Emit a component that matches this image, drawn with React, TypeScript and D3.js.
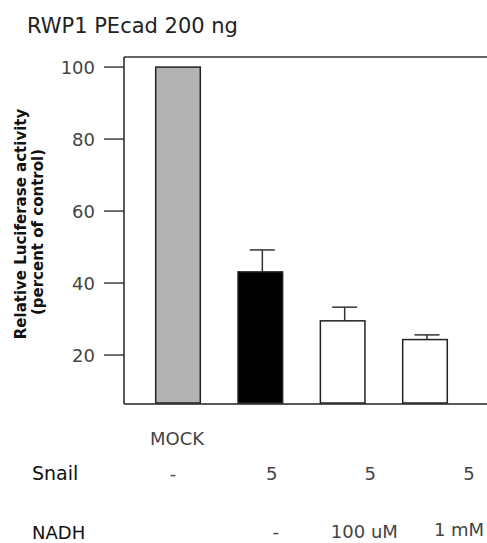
import React from "react";
import * as d3 from "d3";

const categories = ["MOCK", "Snail", "Snail+NADH 100uM", "Snail+NADH 1mM"];
const values = [100, 43.1, 29.5, 24.3];
const errors = [0, 6.1, 3.8, 1.3];
const fills = ["#b3b3b3", "#000000", "#ffffff", "#ffffff"];
const yTicks = [20, 40, 60, 80, 100];
const snailLabels = ["-", "5", "5", "5"];
const nadhLabels = ["", "-", "100 uM", "1 mM"];
const xLabels = ["MOCK", "", "", ""];

const W = 487;
const H = 543;

export default function App() {
  const y = d3.scaleLinear().domain([6.4, 102.8]).range([404, 57]);
  const x = d3.scalePoint<string>().domain(categories).range([178, 425]);
  const lx = d3.scalePoint<string>().domain(categories).range([173, 469]);
  const bw = 44.6;
  const axisX = 124;
  const font = "'DejaVu Sans', Verdana, sans-serif";

  return (
    <svg width={W} height={H} style={{ position: "absolute", left: 0, top: 0, background: "#fff" }}>
      <rect width={W} height={H} fill="#fff" />
      <text x={27} y={33} fontFamily={font} fontSize={21} fill="#222">RWP1 PEcad 200 ng</text>

      {/* frame lines */}
      <line x1={axisX} x2={W} y1={57} y2={57} stroke="#333" strokeWidth={1.3} />
      <line x1={axisX} x2={W} y1={404} y2={404} stroke="#222" strokeWidth={1.5} />
      <line x1={axisX} x2={axisX} y1={57} y2={404} stroke="#222" strokeWidth={1.5} />

      {yTicks.map((t) => (
        <g key={t}>
          <line x1={104} x2={axisX} y1={y(t)} y2={y(t)} stroke="#222" strokeWidth={1.3} />
          <text x={95} y={y(t)} dy="0.36em" textAnchor="end" fontFamily={font} fontSize={18} fill="#444">{t}</text>
        </g>
      ))}

      <text transform="translate(26,224) rotate(-90)" textAnchor="middle" fontFamily={font} fontSize={15} fontWeight="bold" fill="#111">Relative Luciferase activity</text>
      <text transform="translate(43,232) rotate(-90)" textAnchor="middle" fontFamily={font} fontSize={15} fontWeight="bold" fill="#111">(percent of control)</text>

      {categories.map((c, i) => {
        const cx = x(c)!;
        const top = y(values[i]);
        return (
          <g key={c}>
            {errors[i] > 0 && (
              <g stroke="#333" strokeWidth={1.5}>
                <line x1={cx + 2} x2={cx + 2} y1={top} y2={y(values[i] + errors[i])} />
                <line x1={cx + 2 - 12.5} x2={cx + 2 + 12.5} y1={y(values[i] + errors[i])} y2={y(values[i] + errors[i])} />
              </g>
            )}
            <rect x={cx - bw / 2} y={top} width={bw} height={403 - top} fill={fills[i]} stroke="#222" strokeWidth={1.5} />
          </g>
        );
      })}

      {categories.map((c, i) => (
        <g key={"l" + c} fontFamily={font} fontSize={18} textAnchor="middle" fill="#444">
          {xLabels[i] && <text x={lx(c)! + 4} y={445}>{xLabels[i]}</text>}
          <text x={lx(c)!} y={480}>{snailLabels[i]}</text>
          {nadhLabels[i] && <text x={lx(c)! - (i === 1 ? -4 : i === 2 ? 6 : 10)} y={i === 3 ? 536 : 538}>{nadhLabels[i]}</text>}
        </g>
      ))}
      <text x={32} y={480} fontFamily={font} fontSize={19} fill="#111">Snail</text>
      <text x={32} y={539} fontFamily={font} fontSize={18} fill="#111">NADH</text>
    </svg>
  );
}
